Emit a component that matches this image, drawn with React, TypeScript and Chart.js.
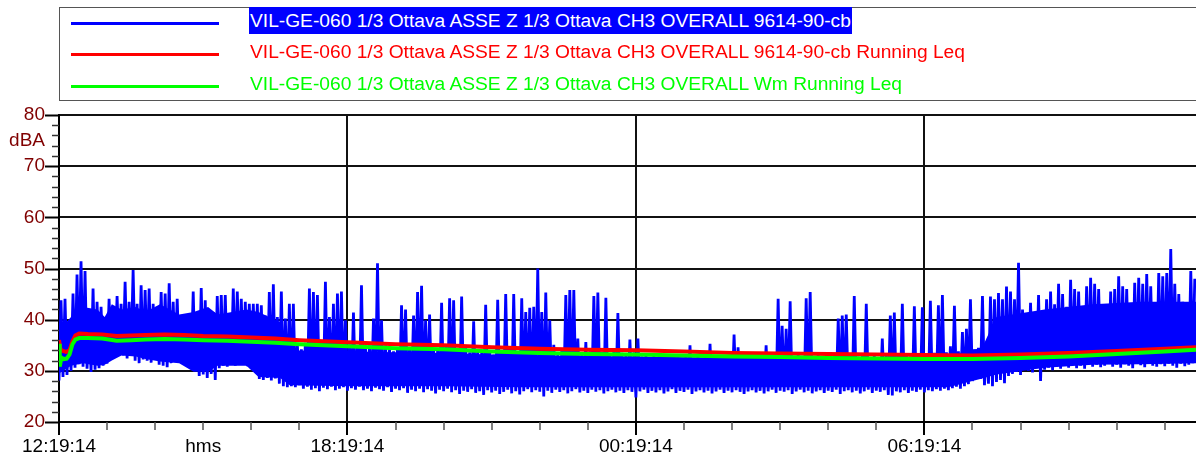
import React, { useEffect, useRef } from 'react';
import { Chart, registerables } from 'chart.js';

Chart.register(...registerables);

// ---- data ----
const X_MAX_HOURS = 23.65; // hours after 12:19:14 at the right edge
const BIN_HOURS = 1 / 12; // blue trace: one low/high pair per 5 minutes

const blueHigh = [
  43.8, 44.1, 39.5, 45.1, 48.8, 51.4, 49.5, 40.5, 46.1, 43.5,
  42.5, 40.2, 44.1, 42.5, 44.6, 43.1, 47.4, 43.5, 49.7, 43.1,
  46.7, 45.8, 46.1, 43.1, 42.5, 45.4, 45.1, 47.1, 43.5, 44.1,
  40.5, 40.2, 40.5, 45.5, 40.5, 46.2, 43.8, 41.2, 41.5, 44.6,
  44.8, 44.8, 40.8, 46.1, 45.5, 44.1, 43.5, 43.1, 43.1, 43.1,
  42.8, 40.8, 45.4, 46.9, 40.5, 45.5, 40.2, 43.1,
  43.1, 35.0, 34.2, 35.5, 46.1, 45.4, 44.8, 35.8, 47.4, 40.5,
  43.1, 45.1, 45.5, 39.9, 35.2, 41.4, 34.8, 46.7, 34.5, 35.0,
  40.2, 51.0, 39.9, 35.0, 34.2, 33.8, 34.6, 42.8, 42.0, 34.5,
  40.8, 45.4, 46.6, 39.9, 41.0, 34.4, 33.9, 43.3, 34.7, 44.2,
  43.8, 34.0, 44.5, 34.8, 33.6, 39.7, 34.1, 33.5, 42.9, 34.0,
  33.2, 43.9, 33.8, 45.0, 34.5, 45.0, 33.7, 44.2,
  41.5, 42.3, 42.5, 50.0, 41.5, 45.3, 39.9, 35.1, 33.6, 33.9,
  44.8, 45.8, 45.8, 36.3, 33.5, 35.6, 33.8, 44.6, 45.3, 33.7,
  44.3, 33.4, 34.0, 41.3, 33.5, 33.2, 36.1, 33.6, 36.3, 32.8,
  33.0, 32.4, 32.9, 32.3, 32.8, 32.5, 33.1, 32.4, 32.7, 32.2,
  32.9, 35.0, 32.5, 33.0, 32.3, 32.7, 35.3, 32.4, 32.8, 32.2,
  32.6, 32.9, 37.1, 34.6, 32.5, 32.7, 32.3,
  32.6, 32.4, 32.9, 35.0, 32.5, 33.0, 44.1, 38.8, 38.2, 43.6,
  32.7, 33.1, 32.4, 44.2, 45.4, 32.8, 33.2, 32.5, 32.9, 32.6,
  33.0, 40.2, 40.8, 41.0, 33.1, 44.6, 32.8, 33.2, 43.1, 32.7,
  33.0, 32.5, 36.3, 33.1, 40.8, 41.4, 32.9, 43.1, 33.2, 32.8,
  42.6, 33.4, 42.4, 33.0, 43.7, 33.5, 42.8, 44.8, 33.6, 34.8,
  42.7, 33.8, 37.6, 38.2, 44.0, 34.2, 34.5, 44.6,
  35.5, 44.5, 44.0, 45.2, 44.0, 46.5, 45.5, 44.0, 51.1, 42.0,
  40.5, 43.3, 41.0, 44.8, 40.8, 44.0, 45.5, 43.0, 47.0, 45.0,
  42.5, 47.8, 46.0, 45.5, 42.0, 46.5, 48.2, 47.0, 46.0, 41.5,
  42.5, 45.5, 46.0, 48.5, 46.5, 46.0, 43.0, 47.2, 48.2, 47.0,
  48.9, 46.5, 42.5, 49.1, 48.5, 49.1, 53.8, 47.0, 45.0, 43.5,
  42.0, 49.5, 48.0,
];

const blueLow = [
  28.1, 28.8, 29.2, 30.0, 30.6, 31.3, 30.8, 30.4, 29.8, 30.2,
  30.5, 31.0, 31.4, 32.2, 33.5, 33.6, 33.0, 32.4, 33.2, 32.0,
  31.5, 32.2, 32.0, 31.6, 32.3, 31.2, 31.0, 30.7, 31.5, 32.0,
  31.8, 32.3, 31.6, 31.2, 30.0, 29.0, 29.3, 28.6, 29.4, 28.2,
  30.5, 31.0, 30.8, 31.4, 31.0, 31.6, 31.2, 30.9, 31.4, 30.8,
  28.4, 28.2, 28.6, 28.1, 28.5, 27.5, 27.0, 26.8,
  27.0, 26.8, 27.2, 26.5, 26.9, 26.3, 26.6, 26.0, 26.7, 26.4,
  26.9, 26.2, 26.5, 26.8, 26.1, 26.6, 26.3, 26.9, 26.2, 26.5,
  26.0, 26.7, 26.4, 26.1, 26.8, 25.9, 26.5, 26.2, 26.6, 25.7,
  26.3, 26.0, 26.5, 25.8, 26.4, 26.1, 25.6, 26.3, 26.0, 26.5,
  25.8, 26.2, 25.5, 26.1, 25.9, 26.4, 25.7, 26.0, 25.3, 26.2,
  25.8, 26.1, 25.5, 25.9, 26.3, 25.6, 26.0, 25.4,
  26.0, 26.4, 25.8, 26.2, 25.9, 25.0, 26.1, 25.7, 26.3, 25.9,
  26.2, 25.6, 26.0, 26.4, 25.8, 26.1, 25.7, 26.3, 25.9, 26.2,
  25.6, 26.0, 26.3, 25.8, 26.1, 25.7, 26.2, 25.9, 24.8, 26.0,
  26.3, 25.7, 26.1, 25.8, 26.2, 25.6, 26.0, 26.4, 25.7, 26.1,
  25.9, 26.3, 25.5, 26.0, 26.2, 25.8, 26.1, 25.6, 26.0, 26.3,
  25.7, 26.1, 25.8, 26.2, 25.9, 25.5, 26.0,
  26.2, 25.8, 26.1, 25.6, 26.0, 26.3, 25.7, 26.1, 25.9, 26.2,
  25.5, 26.0, 26.3, 25.8, 26.1, 25.6, 26.0, 26.2, 25.7, 26.1,
  25.9, 26.3, 25.5, 26.0, 26.2, 25.8, 26.1, 25.6, 26.0, 26.3,
  25.7, 26.1, 25.9, 26.2, 25.3, 25.2, 26.0, 25.8, 26.2, 25.7,
  26.1, 25.9, 26.3, 25.8, 26.2, 26.0, 26.4, 26.1, 26.5, 26.2,
  26.6, 26.9, 26.5, 27.0, 27.4, 28.0, 28.6, 28.4,
  27.2, 27.5, 27.0, 27.8, 28.2, 27.6, 29.0, 29.4, 29.8, 29.2,
  30.4, 30.0, 29.7, 30.5, 28.0, 30.2, 30.6, 30.1, 30.8, 30.4,
  31.0, 30.6, 31.2, 30.5, 31.0, 30.4, 31.3, 30.8, 31.2, 30.7,
  31.0, 31.4, 30.8, 31.2, 30.6, 31.3, 31.0, 30.5, 31.4, 31.1,
  30.7, 31.5, 31.0, 30.8, 31.3, 30.9, 31.4, 31.0, 30.6, 31.4,
  30.9, 31.2, 31.5,
];

// solid body of the blue trace (where the samples are too dense to separate)
const bandTimes = [
  0, 0.25, 0.5, 0.8, 0.95, 1.1, 1.3, 1.6, 1.8, 2.1,
  2.5, 2.8, 3.1, 3.3, 3.9, 4.15, 4.6, 4.8, 6, 8,
  9.6, 12, 14.4, 17, 18.5, 19.2, 19.5, 20.5, 21.5, 22.5,
  23.65,
];
const bandTop = [
  38.0, 40.5, 42.5, 42.0, 40.5, 43.0, 42.0, 42.5, 41.5, 43.0,
  41.0, 41.5, 42.5, 41.0, 42.0, 41.5, 39.5, 34.0, 33.8, 33.5,
  33.0, 32.8, 32.5, 32.5, 33.0, 34.5, 40.5, 42.0, 43.0, 43.5,
  43.5,
];
const bandBottom = [
  29.5, 31.0, 31.5, 31.0, 31.2, 32.0, 33.0, 32.8, 32.3, 31.8,
  31.5, 29.8, 29.8, 31.0, 31.0, 28.8, 28.6, 27.2, 27.0, 27.0,
  26.8, 26.8, 26.8, 26.8, 26.8, 28.5, 29.3, 30.6, 31.2, 31.3,
  31.5,
];

const redTimes = [
  0, 0.03, 0.08, 0.15, 0.22, 0.28, 0.34, 0.42, 0.6, 0.9,
  1.2, 1.5, 1.8, 2.2, 2.6, 3.0, 3.5, 4.0, 4.5, 5.0,
  5.5, 6, 7, 8, 9, 10, 11, 12, 13, 14,
  15, 16, 17, 18, 19, 20, 21, 22, 23, 23.65,
];
const redLeq = [
  36.0, 34.2, 33.9, 33.7, 34.0, 35.8, 36.9, 37.3, 37.2, 37.1,
  36.8, 36.9, 37.0, 37.1, 37.0, 36.8, 36.7, 36.5, 36.3, 36.0,
  35.8, 35.6, 35.2, 35.0, 34.6, 34.3, 34.1, 34.0, 33.8, 33.5,
  33.4, 33.3, 33.2, 33.1, 33.0, 33.2, 33.5, 33.9, 34.3, 34.6,
];

const greenTimes = [
  0, 0.015, 0.05, 0.1, 0.16, 0.22, 0.28, 0.34, 0.42, 0.6,
  0.9, 1.2, 1.5, 1.8, 2.2, 2.6, 3.0, 3.5, 4.0, 4.5,
  5.0, 5.5, 6, 7, 8, 9, 10, 11, 12, 13,
  14, 15, 16, 17, 18, 19, 20, 21, 22, 23, 23.65,
];
const greenLeq = [
  35.3, 30.8, 32.6, 32.3, 32.4, 33.2, 35.2, 36.1, 36.4, 36.4,
  36.3, 35.9, 36.0, 36.1, 36.2, 36.1, 36.0, 35.9, 35.7, 35.5,
  35.2, 35.0, 34.8, 34.4, 34.2, 33.8, 33.5, 33.3, 33.2, 33.0,
  32.8, 32.7, 32.5, 32.4, 32.3, 32.3, 32.5, 32.8, 33.3, 33.8, 34.1,
];

const yTickValues = [
  20, 22, 24, 26, 28, 30, 32, 34, 36, 38, 40, 42, 44, 46, 48, 50,
  52, 54, 56, 58, 60, 62, 64, 66, 68, 70, 72, 74, 75, 76, 78, 80,
];
const yUnitValue = 75;
const yUnitLabel = 'dBA';

const xTickHours = [
  0, 1, 2, 3, 4, 5, 6, 7, 8, 9, 10, 11, 12, 13, 14, 15, 16, 17, 18, 19, 20, 21, 22, 23,
];
const xMajorHours = [0, 6, 12, 18];
const xMajorLabels = ['12:19:14', '18:19:14', '00:19:14', '06:19:14'];
const xUnitHour = 3;
const xUnitLabel = 'hms';

const legendLabels = [
  'VIL-GE-060 1/3 Ottava ASSE Z 1/3 Ottava CH3 OVERALL 9614-90-cb',
  'VIL-GE-060 1/3 Ottava ASSE Z 1/3 Ottava CH3 OVERALL 9614-90-cb Running Leq',
  'VIL-GE-060 1/3 Ottava ASSE Z 1/3 Ottava CH3 OVERALL Wm Running Leq',
];
const seriesColors = ['#0000ff', '#ff0000', '#00ff00'];

const FONT = "'Liberation Sans', Arial, sans-serif";

const tickMarks = {
  id: 'tickMarks',
  afterDraw(chart: any) {
    const { ctx } = chart;
    const xs = chart.scales.x;
    const ys = chart.scales.y;
    ctx.save();
    ys.ticks.forEach((t: any) => {
      if (t.value === yUnitValue) return;
      const major = t.value % 10 === 0;
      const py = Math.round(ys.getPixelForValue(t.value)) + 0.5;
      ctx.strokeStyle = major ? '#000' : '#333';
      ctx.lineWidth = major ? 2 : 1.5;
      ctx.beginPath();
      ctx.moveTo(ys.right - (major ? 14 : 7), py);
      ctx.lineTo(ys.right, py);
      ctx.stroke();
    });
    xs.ticks.forEach((t: any) => {
      const major = xMajorHours.includes(t.value);
      const px = Math.round(xs.getPixelForValue(t.value));
      ctx.strokeStyle = major ? '#000' : '#555';
      ctx.lineWidth = major ? 2 : 1.5;
      ctx.beginPath();
      ctx.moveTo(px, xs.top);
      ctx.lineTo(px, xs.top + (major ? 13 : 8));
      ctx.stroke();
    });
    ctx.restore();
  },
};

export default function App() {
  const ref = useRef<HTMLCanvasElement>(null);

  useEffect(() => {
    if (!ref.current) return;
    const blueData: { x: number; y: number }[] = [];
    blueLow.forEach((lo, i) => {
      blueData.push({ x: i * BIN_HOURS, y: lo });
      blueData.push({ x: (i + 0.5) * BIN_HOURS, y: blueHigh[i] });
    });
    const redData = redTimes.map((t, i) => ({ x: t, y: redLeq[i] }));
    const greenData = greenTimes.map((t, i) => ({ x: t, y: greenLeq[i] }));
    const bandLowData = bandTimes.map((t, i) => ({ x: t, y: bandBottom[i] }));
    const bandHighData = bandTimes.map((t, i) => ({ x: t, y: bandTop[i] }));

    const chart = new Chart(ref.current, {
      type: 'line',
      data: {
        datasets: [
          {
            label: legendLabels[0],
            data: blueData,
            borderColor: seriesColors[0],
            borderWidth: 2.8,
            pointRadius: 0,
            order: 2,
          },
          {
            label: legendLabels[1],
            data: redData,
            borderColor: seriesColors[1],
            borderWidth: 4,
            pointRadius: 0,
            order: 1,
          },
          {
            label: legendLabels[2],
            data: greenData,
            borderColor: seriesColors[2],
            borderWidth: 4,
            pointRadius: 0,
            order: 0,
          },
          {
            label: 'band-low',
            data: bandLowData,
            borderWidth: 0,
            borderColor: 'rgba(0,0,0,0)',
            pointRadius: 0,
            fill: false,
            order: 4,
          },
          {
            label: 'band-high',
            data: bandHighData,
            borderWidth: 0,
            borderColor: 'rgba(0,0,0,0)',
            backgroundColor: seriesColors[0],
            pointRadius: 0,
            fill: '-1',
            order: 3,
          },
        ],
      },
      options: {
        animation: false,
        responsive: false,
        layout: { padding: { top: 115, left: 0, right: 0, bottom: 0 } },
        plugins: { legend: { display: false }, tooltip: { enabled: false } },
        scales: {
          x: {
            type: 'linear',
            min: 0,
            max: X_MAX_HOURS,
            afterBuildTicks: (s: any) => {
              s.ticks = xTickHours.map((v) => ({ value: v }));
            },
            afterFit: (s: any) => {
              s.height = 40;
            },
            grid: {
              color: (c: any) =>
                c.tick && c.tick.value > 0 && xMajorHours.includes(c.tick.value) ? '#111' : 'rgba(0,0,0,0)',
              lineWidth: 2,
              drawTicks: false,
            },
            border: { color: '#000', width: 2 },
            ticks: {
              autoSkip: false,
              maxRotation: 0,
              padding: 13,
              color: '#000',
              font: { family: FONT, size: 19 },
              callback: (v: any) => {
                const k = xMajorHours.indexOf(v);
                if (k >= 0) return xMajorLabels[k];
                if (v === xUnitHour) return xUnitLabel;
                return '';
              },
            },
          },
          y: {
            type: 'linear',
            min: 20,
            max: 80,
            afterBuildTicks: (s: any) => {
              s.ticks = yTickValues.map((v) => ({ value: v }));
            },
            afterFit: (s: any) => {
              s.width = 59;
            },
            grid: {
              color: (c: any) =>
                c.tick && c.tick.value > 20 && c.tick.value % 10 === 0 ? '#111' : 'rgba(0,0,0,0)',
              lineWidth: 2,
              drawTicks: false,
            },
            border: { color: '#000', width: 2 },
            ticks: {
              autoSkip: false,
              padding: 14,
              color: '#800000',
              font: { family: FONT, size: 19 },
              callback: (v: any) => {
                if (v === yUnitValue) return yUnitLabel;
                return v % 10 === 0 ? String(v) : '';
              },
            },
          },
        },
      },
      plugins: [tickMarks],
    } as any);
    return () => chart.destroy();
  }, []);

  const rowCenters = [20.5, 51.8, 83];
  const lineCenters = [23.3, 54.3, 86];

  return (
    <div
      style={{
        position: 'absolute',
        left: 0,
        top: 0,
        width: 1196,
        height: 462,
        overflow: 'hidden',
        background: '#fff',
      }}
    >
      <canvas ref={ref} width={1196} height={462} style={{ display: 'block', width: 1196, height: 462 }} />
      <div
        style={{
          position: 'absolute',
          left: 59,
          top: 7,
          width: 1200,
          height: 92,
          border: '1px solid #555',
        }}
      />
      {legendLabels.map((label, i) => (
        <React.Fragment key={label}>
          <div
            style={{
              position: 'absolute',
              left: 71,
              top: lineCenters[i] - 1.5,
              width: 148,
              height: 3,
              background: seriesColors[i],
            }}
          />
          <div
            style={{
              position: 'absolute',
              left: 249,
              top: rowCenters[i] - 13.5,
              height: 27,
              lineHeight: '27px',
              fontFamily: FONT,
              fontSize: 19.2,
              whiteSpace: 'nowrap',
              color: i === 0 ? '#fff' : seriesColors[i],
              background: i === 0 ? seriesColors[0] : 'transparent',
              paddingLeft: 1,
              paddingRight: 1,
            }}
          >
            {label}
          </div>
        </React.Fragment>
      ))}
    </div>
  );
}
